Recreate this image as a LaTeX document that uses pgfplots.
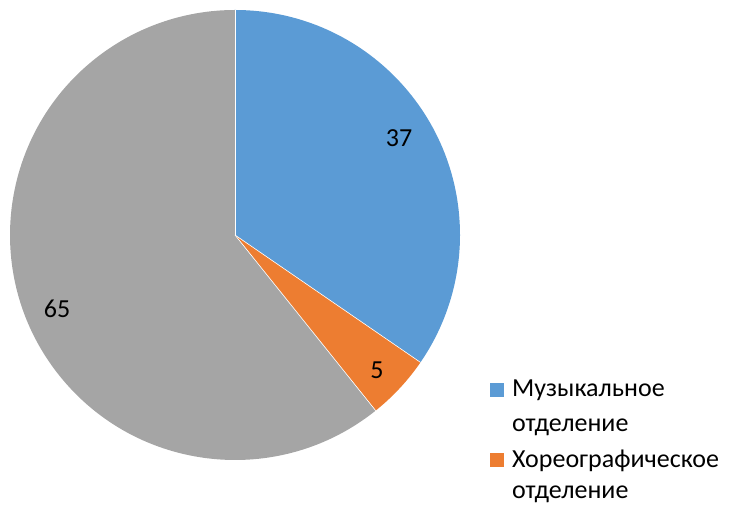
\documentclass[border=0pt]{standalone}
\usepackage{pgfplots}
\usepackage{pgfplotstable}
\usepackage{fontspec}
\setmainfont{Carlito}
\pgfplotsset{compat=1.18}

\definecolor{pieblue}{HTML}{5B9BD5}
\definecolor{pieorange}{HTML}{ED7D31}
\definecolor{piegray}{HTML}{A5A5A5}

% values of the three slices
\pgfplotstableread{
value
37
5
65
}\piedata

\pgfplotstablegetelem{0}{value}\of\piedata \let\va\pgfplotsretval
\pgfplotstablegetelem{1}{value}\of\piedata \let\vb\pgfplotsretval
\pgfplotstablegetelem{2}{value}\of\piedata \let\vc\pgfplotsretval
\pgfmathsetmacro\total{\va+\vb+\vc}
\pgfmathsetmacro\aA{90}
\pgfmathsetmacro\aB{90-\va/\total*360}
\pgfmathsetmacro\aC{\aB-\vb/\total*360}
\pgfmathsetmacro\aD{\aC-\vc/\total*360}

\begin{document}
\begin{tikzpicture}
\begin{axis}[
    x=1bp, y=1bp,
    xmin=0, xmax=731, ymin=0, ymax=505,
    hide axis, clip=false,
]
\coordinate (bl) at (axis cs:0,0);
\coordinate (tr) at (axis cs:731,505);
\fill[pieblue]   (axis cs:235,270) -- ++(\aA:225bp) arc[start angle=\aA, end angle=\aB, radius=225bp] -- cycle;
\fill[pieorange] (axis cs:235,270) -- ++(\aB:225bp) arc[start angle=\aB, end angle=\aC, radius=225bp] -- cycle;
\fill[piegray]   (axis cs:235,270) -- ++(\aC:225bp) arc[start angle=\aC, end angle=\aD, radius=225bp] -- cycle;
\draw[white, line width=0.6bp] (axis cs:235,270) -- ++(\aA:225bp);
\draw[white, line width=0.6bp] (axis cs:235,270) -- ++(\aB:225bp);
\draw[white, line width=0.6bp] (axis cs:235,270) -- ++(\aC:225bp);

\begin{scope}[every node/.style={inner sep=0pt, font=\fontsize{26bp}{34bp}\selectfont}]
\node[anchor=base] at (axis cs:399,358.3) {\va};
\node[anchor=base] at (axis cs:377,126.7) {\vb};
\node[anchor=base] at (axis cs:57,187.3) {\vc};

\fill[pieblue] (axis cs:490,108) rectangle (axis cs:504,122);
\node[anchor=base west] at (axis cs:512,108) {Музыкальное};
\node[anchor=base west] at (axis cs:512,73) {отделение};
\fill[pieorange] (axis cs:490,38) rectangle (axis cs:504,52);
\node[anchor=base west] at (axis cs:512,37) {Хореографическое};
\node[anchor=base west] at (axis cs:512,6.5) {отделение};
\end{scope}
\end{axis}
\pgfresetboundingbox
\path (bl) rectangle (tr);
\end{tikzpicture}
\end{document}
